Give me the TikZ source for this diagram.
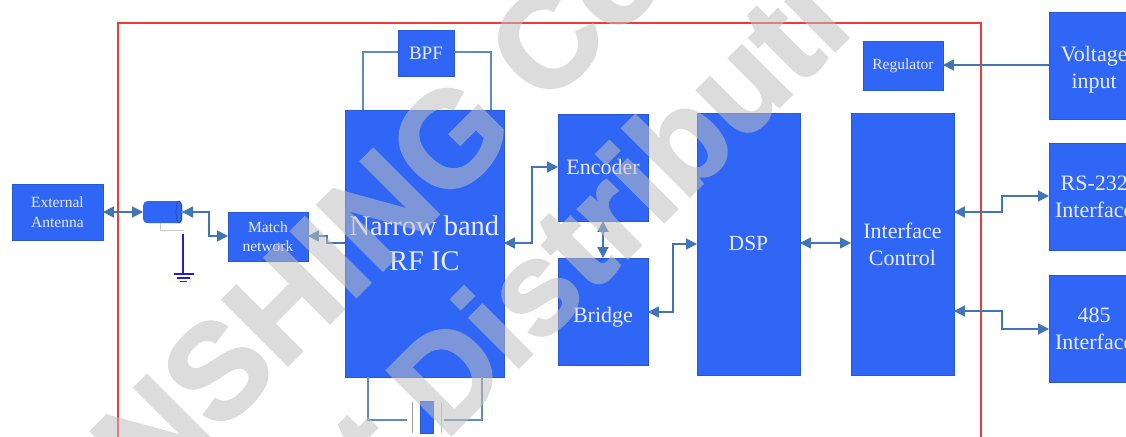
\documentclass[tikz,border=0pt]{standalone}
\usepackage{fontspec}
\setmainfont{Liberation Serif}
\newfontfamily\wmfont{Liberation Sans Bold}[FakeBold=2]
\usetikzlibrary{arrows.meta}
\definecolor{boxblue}{HTML}{2F66F5}
\definecolor{linkblue}{HTML}{4275B3}
\definecolor{framered}{HTML}{F03A3A}
\definecolor{gndblue}{HTML}{2222C4}
\tikzset{
  blk/.style={fill=boxblue,draw=boxblue!85!black,line width=.4pt,text=white!92!blue,align=center,inner sep=0pt,anchor=north west},
  link/.style={draw=linkblue,line width=1.5pt,{Stealth[length=11pt,width=11pt,inset=0pt]}-{Stealth[length=11pt,width=11pt,inset=0pt]}},
  linkone/.style={draw=linkblue,line width=1.5pt,-{Stealth[length=11pt,width=11pt,inset=0pt]}},
  wire/.style={draw=linkblue!85!white,line width=1.3pt},
  wm/.style={text=black!25,inner sep=0pt,rotate=45,anchor=base west},
}
\newcommand{\blk}[6]{\node[blk,minimum width=#3pt,minimum height=#4pt,font=\fontsize{#6}{#6}\selectfont] (#1) at (#2) {#5};}
\begin{document}
\begin{tikzpicture}[x=1pt,y=-1pt]
\useasboundingbox (0,0) rectangle (1126,436);
\clip (0,0) rectangle (1126,436);
\fill[white] (0,0) rectangle (1126,436);
\draw[framered,line width=1.6pt] (118,445) -- (118,23) -- (981,23) -- (981,445);
% blocks
\blk{ant}{12,184}{90.5}{55.5}{External\\[4pt]Antenna}{15.5}
\blk{match}{228,212}{79.5}{48.5}{Match\\[4pt]network}{15.5}
\blk{rf}{345,110}{158.5}{266.5}{Narrow band\\[6pt]RF IC}{28.5}
\blk{bpf}{398,30}{55.5}{45.5}{BPF}{19}
\blk{enc}{558,114}{89.5}{106.5}{Encoder}{22}
\blk{bri}{558,258}{89.5}{106.5}{\raisebox{-3pt}[\height][0pt]{Bridge}}{22}
\blk{dsp}{697,113}{102.5}{261.5}{DSP}{21.5}
\blk{ifc}{851,113}{102.5}{261.5}{Interface\\[5pt]Control}{22}
\blk{reg}{863,41}{79.5}{48.5}{Regulator}{15.5}
\blk{vol}{1049,12}{90}{106.5}{\raisebox{-2pt}[\height][0pt]{Voltage}\\[5pt]\raisebox{-2pt}[\height][0pt]{input}}{22}
\blk{rs}{1049,143}{90}{106.5}{RS-232\\[5pt]Interface}{22}
\blk{inf}{1049,275}{90}{106.5}{485\\[5pt]Interface}{22}
% cable
\node[blk,minimum width=39pt,minimum height=22pt,rounded corners=4pt,draw=none] (cable) at (143,201) {};
\draw[draw=boxblue!70!black,line width=.7pt,fill=boxblue] (179,212) ellipse (3pt and 11pt);
% ground
\coordinate (gt) at (183,234);
\coordinate (gb) at (183,274);
\draw[draw=black!20,line width=.8pt] (160,223) |- (184,230);
\draw[gndblue,line width=1.3pt] (gt) -- (gb);
\draw[gndblue,line width=1.3pt] (173.5,274) -- (193.5,274) (177,278) -- (190,278) (180,281.5) -- (187,281.5);
% BPF loop
\draw[wire] (rf.north west -| 363,0) -- (363,52) -- (bpf.west |- 0,52);
\draw[wire] (rf.north west -| 491,0) -- (491,52) -- (bpf.east |- 0,52);
% crystal
\coordinate (pl) at (412.5,402);
\coordinate (pr) at (441,402);
\draw[wire] (rf.south west -| 368,0) -- (368,420) -- (407,420);
\draw[wire] (rf.south west -| 482,0) -- (482,420) -- (444,420);
\draw[draw=black!40,line width=.8pt] (pl) -- ++(0,31);
\draw[draw=black!25,line width=.8pt] (pr) -- ++(0,31);
\node[blk,minimum width=13pt,minimum height=32pt] (xtal) at (420,401) {};
% links
\draw[link] (ant.east |- 0,212) -- (cable.west |- 0,212);
\draw[link] (182,212) -- (209,212) -- (209,236) -- (match.west |- 0,236);
\draw[linkone] (rf.west |- 0,243) -- (327,243) -- (327,236) -- (match.east |- 0,236);
\draw[link] (rf.east |- 0,243) -- (532,243) -- (532,167) -- (enc.west |- 0,167);
\draw[link] (enc.south) -- (bri.north);
\draw[link] (bri.east |- 0,312) -- (673,312) -- (673,244) -- (dsp.west |- 0,244);
\draw[link] (dsp.east |- 0,243) -- (ifc.west |- 0,243);
\draw[link] (ifc.east |- 0,212) -- (1002,212) -- (1002,196) -- (rs.west |- 0,196);
\draw[link] (ifc.east |- 0,311) -- (1002,311) -- (1002,329) -- (inf.west |- 0,329);
\draw[linkone] (vol.west |- 0,65) -- (reg.east |- 0,65);
% watermark
\begin{scope}[transparency group,opacity=.54]
\node[wm,font=\wmfont\fontsize{134}{134}\selectfont] (w1) at (150,503) {NSHING Co};
\node[wm,font=\wmfont\fontsize{132}{132}\selectfont] (w2) at (388,498) {t Distributi};
\end{scope}
\end{tikzpicture}
\end{document}
